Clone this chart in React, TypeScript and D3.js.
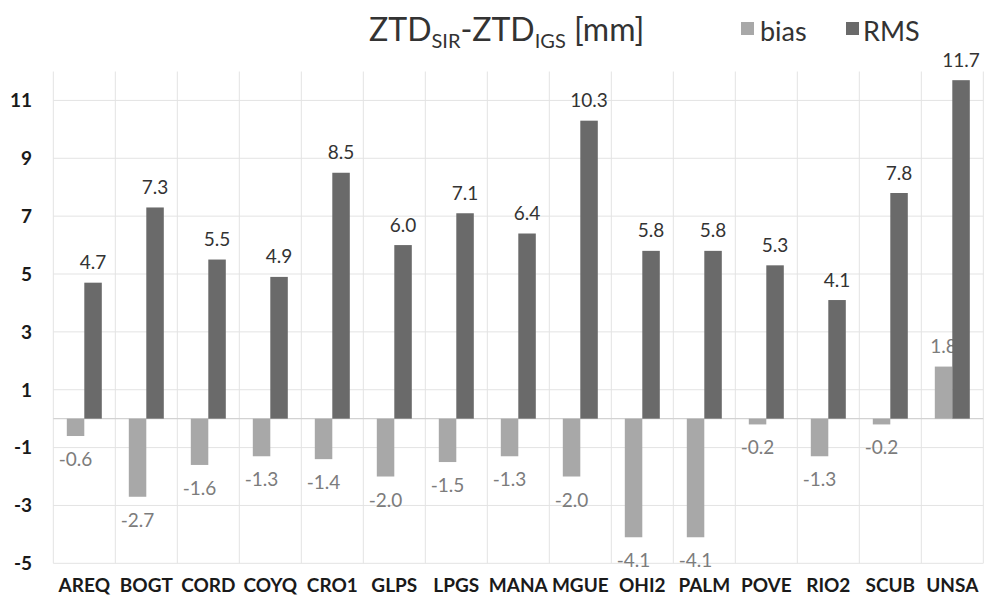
import React from "react";
import * as d3 from "d3";

const categories = ["AREQ", "BOGT", "CORD", "COYQ", "CRO1", "GLPS", "LPGS", "MANA", "MGUE", "OHI2", "PALM", "POVE", "RIO2", "SCUB", "UNSA"];
const biasValues = [-0.6, -2.7, -1.6, -1.3, -1.4, -2.0, -1.5, -1.3, -2.0, -4.1, -4.1, -0.2, -1.3, -0.2, 1.8];
const rmsValues = [4.7, 7.3, 5.5, 4.9, 8.5, 6.0, 7.1, 6.4, 10.3, 5.8, 5.8, 5.3, 4.1, 7.8, 11.7];
const yTicks = [-5, -3, -1, 1, 3, 5, 7, 9, 11];

const W = 985;
const H = 598;
const FONT = "Lato, 'Open Sans', sans-serif";
const BIAS_COLOR = "#a8a8a8";
const RMS_COLOR = "#6a6a6a";

export default function App() {
  const x = d3.scaleBand<string>().domain(categories).range([53.3, 983.3]).padding(0);
  const y = d3.scaleLinear().domain([-5, 12]).range([563.3, 71.5]);
  const fmt = (v: number) => d3.format(".1f")(v).replace("\u2212", "-");
  const bw = 17.5;
  const center = (c: string) => (x(c) as number) + x.bandwidth() / 2;
  const boundaries = categories.map((c) => x(c) as number).concat([x.range()[1]]);

  return (
    <svg width={W} height={H} style={{ position: "absolute", left: 0, top: 0, background: "#fff" }} fontFamily={FONT}>
      {/* horizontal gridlines */}
      {yTicks.map((t) => (
        <line key={"h" + t} x1={x.range()[0]} x2={x.range()[1]} y1={y(t)} y2={y(t)} stroke="#e3e3e3" strokeWidth={1} />
      ))}
      {/* vertical gridlines */}
      {boundaries.map((b, i) => (
        <line key={"v" + i} x1={b} x2={b} y1={y(12)} y2={y(-5)} stroke="#e3e3e3" strokeWidth={1} />
      ))}
      {/* zero line */}
      <line x1={x.range()[0]} x2={x.range()[1]} y1={y(0)} y2={y(0)} stroke="#d2d2d2" strokeWidth={1.2} />

      {/* y tick labels */}
      {yTicks.map((t) => (
        <text key={"yt" + t} x={32} y={y(t)} dy="0.36em" textAnchor="end" fontSize={19} fontWeight="bold" fill="#1a1a1a">
          {String(t)}
        </text>
      ))}

      {/* bias bars */}
      {categories.map((c, i) => {
        const v = biasValues[i];
        return (
          <rect key={"b" + c} x={center(c) - bw} width={bw} y={Math.min(y(v), y(0))} height={Math.abs(y(v) - y(0))} fill={BIAS_COLOR} />
        );
      })}
      {/* bias labels */}
      {categories.map((c, i) => {
        const v = biasValues[i];
        const ly = v < 0 ? y(v) + 30 : y(v) - 13.5;
        return (
          <text key={"bl" + c} x={center(c) - bw / 2} y={ly} textAnchor="middle" fontSize={19} fill="#7c7c7c">
            {fmt(v)}
          </text>
        );
      })}
      {/* RMS bars */}
      {categories.map((c, i) => {
        const v = rmsValues[i];
        return (
          <rect key={"r" + c} x={center(c)} width={bw} y={Math.min(y(v), y(0))} height={Math.abs(y(v) - y(0))} fill={RMS_COLOR} />
        );
      })}
      {/* RMS labels */}
      {categories.map((c, i) => {
        const v = rmsValues[i];
        return (
          <text key={"rl" + c} x={center(c) + bw / 2} y={y(v) - 13.5} textAnchor="middle" fontSize={19} fill="#333">
            {fmt(v)}
          </text>
        );
      })}

      {/* category labels */}
      {categories.map((c) => (
        <text key={"c" + c} x={center(c)} y={592} textAnchor="middle" fontSize={19} fontWeight="bold" fill="#1a1a1a">
          {c}
        </text>
      ))}

      {/* title */}
      <text x={369} y={41} fontSize={32} fill="#333">
        ZTD
        <tspan fontSize={20} dy={7}>SIR</tspan>
        <tspan dy={-7}>-ZTD</tspan>
        <tspan fontSize={20} dy={7}>IGS</tspan>
        <tspan dy={-7}> [mm]</tspan>
      </text>

      {/* legend */}
      <rect x={741} y={22} width={13} height={13} fill={BIAS_COLOR} />
      <text x={760} y={41} fontSize={27} fill="#333">bias</text>
      <rect x={846} y={22} width={13} height={13} fill={RMS_COLOR} />
      <text x={863} y={41} fontSize={27} fill="#333">RMS</text>
    </svg>
  );
}
